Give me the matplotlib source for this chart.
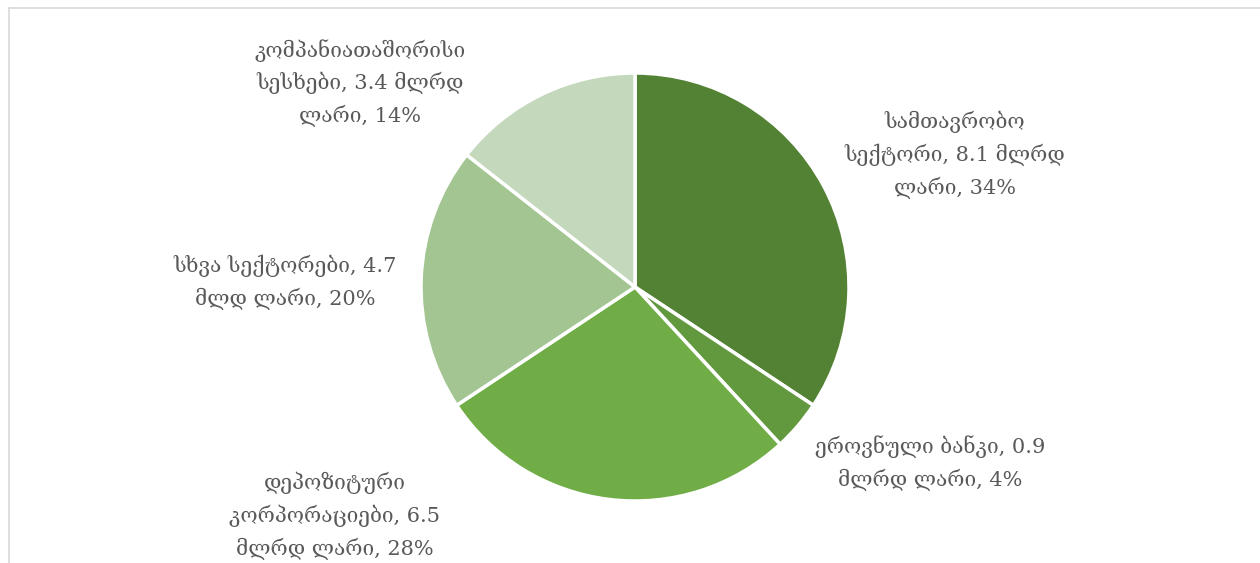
import matplotlib.pyplot as plt
from matplotlib.lines import Line2D

plt.rcParams['font.family'] = ['DejaVu Serif', 'DejaVu Sans']

labels = [
    "სამთავრობო\nსექტორი, 8.1 მლრდ\nლარი, 34%",
    "ეროვნული ბანკი, 0.9\nმლრდ ლარი, 4%",
    "დეპოზიტური\nკორპორაციები, 6.5\nმლრდ ლარი, 28%",
    "სხვა სექტორები, 4.7\nმლდ ლარი, 20%",
    "კომპანიათაშორისი\nსესხები, 3.4 მლრდ\nლარი, 14%",
]
values = [8.1, 0.9, 6.5, 4.7, 3.4]
colors = ["#548235", "#62993E", "#70AD47", "#A2C591", "#C4D8BC"]

# label centres in pie-radius units (pie centre = 0,0)
label_pos = [(1.495, 0.617), (1.379, -0.822), (-1.402, -1.070),
             (-1.636, 0.023), (-1.285, 0.953)]

fig = plt.figure(figsize=(12.6, 5.63), dpi=100)
ax = fig.add_axes([0, 0, 1, 1])

r_px = 214
cx, cy = 635, 287
ax.pie(values, colors=colors, startangle=90, counterclock=False,
       radius=1, wedgeprops={"edgecolor": "white", "linewidth": 2.5})

for txt, (x, y) in zip(labels, label_pos):
    ax.text(x, y, txt, ha="center", va="center", fontsize=15,
            color="#595959", linespacing=1.62)

ax.set_xlim(-cx / r_px, (1260 - cx) / r_px)
ax.set_ylim(-(563 - cy) / r_px, cy / r_px)
ax.set_aspect("auto")
ax.axis("off")

# light chart frame
fig.add_artist(Line2D([8.5 / 1260, 1], [1 - 7.5 / 563, 1 - 7.5 / 563],
                      transform=fig.transFigure, color="#D9D9D9", lw=1.2))
fig.add_artist(Line2D([8.5 / 1260, 8.5 / 1260], [0, 1 - 7.5 / 563],
                      transform=fig.transFigure, color="#D9D9D9", lw=1.2))

fig.savefig("out.png", dpi=100, facecolor="white")
